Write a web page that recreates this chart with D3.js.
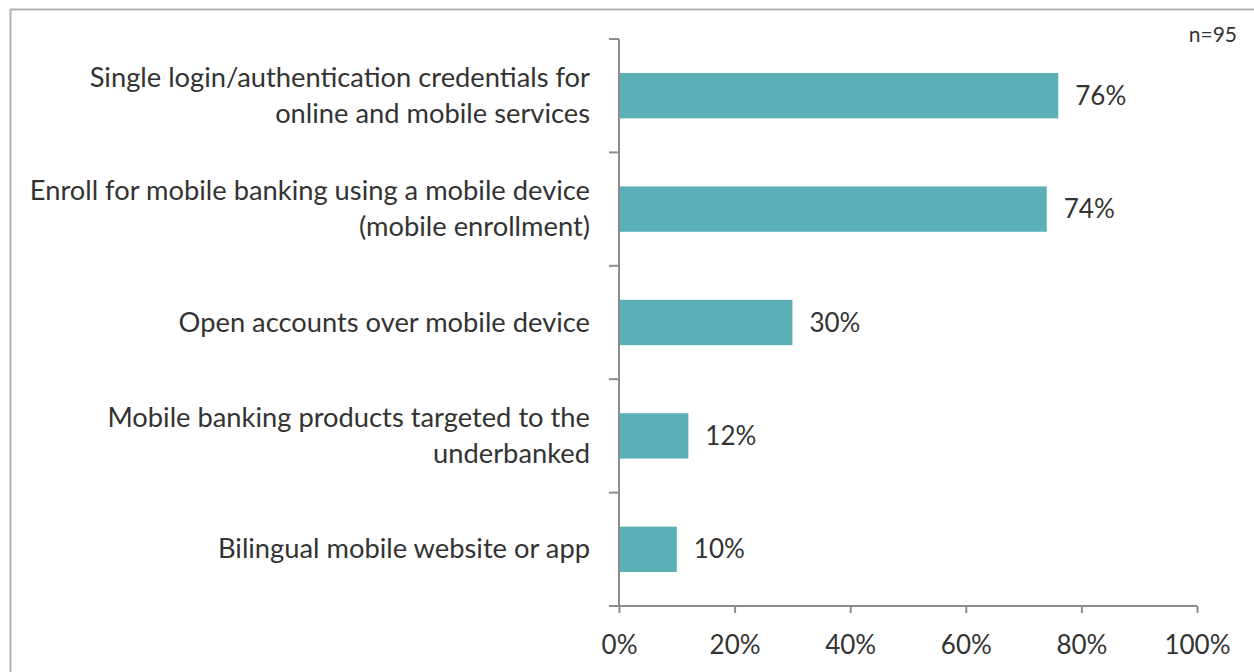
<!DOCTYPE html>
<html>
<head>
<meta charset="utf-8">
<script src="https://cdn.jsdelivr.net/npm/d3@7"></script>
<style>
  html, body { margin: 0; padding: 0; background: #fff; }
  svg { display: block; }
  text { font-family: Lato, "Open Sans", sans-serif; fill: #333; }
</style>
</head>
<body>
<svg id="chart" width="1254" height="672"></svg>
<script>
// Share of respondents offering each mobile banking capability
const categories = [
  ["Single login/authentication credentials for", "online and mobile services"],
  ["Enroll for mobile banking using a mobile device", "(mobile enrollment)"],
  ["Open accounts over mobile device"],
  ["Mobile banking products targeted to the", "underbanked"],
  ["Bilingual mobile website or app"]
];
const values = [76, 74, 30, 12, 10];
const xTicks = [0, 20, 40, 60, 80, 100];
const sampleNote = "n=95";

const svg = d3.select("#chart");
const W = 1254, H = 672;
const labelSize = 27.3, numberSize = 26;

// outer frame
svg.append("rect")
  .attr("x", 10.5).attr("y", 9.5)
  .attr("width", W + 10).attr("height", H + 10)
  .attr("fill", "none").attr("stroke", "#b3b3b3").attr("stroke-width", 2);

const x0 = 619, x1 = 1197, yTop = 39, yBot = 606;

const x = d3.scaleLinear().domain([0, 100]).range([x0, x1]);
const y = d3.scaleBand().domain(d3.range(categories.length)).range([yTop, yBot])
  .paddingInner(0.6).paddingOuter(0.3);

const axisColor = "#8c8c8c";

// bars
svg.append("g").selectAll("rect").data(values).join("rect")
  .attr("x", x(0))
  .attr("y", (d, i) => y(i))
  .attr("width", d => x(d) - x(0))
  .attr("height", y.bandwidth())
  .attr("fill", "#5bb0b8");

// vertical category axis with boundary ticks
const band = (yBot - yTop) / categories.length;
const gy = svg.append("g");
gy.append("line").attr("x1", x0).attr("x2", x0).attr("y1", yTop).attr("y2", yBot)
  .attr("stroke", axisColor).attr("stroke-width", 2);
gy.selectAll("line.tk").data(d3.range(categories.length + 1)).join("line")
  .attr("class", "tk")
  .attr("x1", x0 - 10).attr("x2", x0)
  .attr("y1", i => yTop + i * band).attr("y2", i => yTop + i * band)
  .attr("stroke", axisColor).attr("stroke-width", 2);

// horizontal value axis
const gx = svg.append("g").attr("transform", `translate(0,${yBot})`)
  .call(d3.axisBottom(x).tickValues(xTicks).tickFormat(d => d + "%").tickSize(7).tickSizeOuter(0).tickPadding(23));
gx.select(".domain").attr("stroke", axisColor).attr("stroke-width", 2)
  .attr("d", `M${x0 - 10},0H${x1}`);
gx.selectAll(".tick line").attr("stroke", axisColor).attr("stroke-width", 2);
gx.selectAll(".tick text").attr("font-size", numberSize).attr("fill", "#333")
  .style("font-family", 'Lato, sans-serif');

// category labels
const lineGap = 36;
const labels = svg.append("g").selectAll("text").data(categories).join("text")
  .attr("text-anchor", "end")
  .attr("font-size", labelSize)
  .attr("x", 590)
  .attr("y", (d, i) => y(i) + y.bandwidth() / 2);
labels.selectAll("tspan").data(d => d.map((t, k) => ({ t, k, n: d.length }))).join("tspan")
  .attr("x", 590)
  .attr("dy", (p) => p.k === 0 ? ((-(p.n - 1) / 2) * lineGap + 9) : lineGap)
  .text(p => p.t);

// value labels
svg.append("g").selectAll("text").data(values).join("text")
  .attr("x", d => x(d) + 17)
  .attr("y", (d, i) => y(i) + y.bandwidth() / 2 + 9)
  .attr("font-size", numberSize)
  .text(d => d + "%");

// sample size
svg.append("text").attr("x", 1237).attr("y", 42).attr("text-anchor", "end")
  .attr("font-size", 21).text(sampleNote);
</script>
</body>
</html>
